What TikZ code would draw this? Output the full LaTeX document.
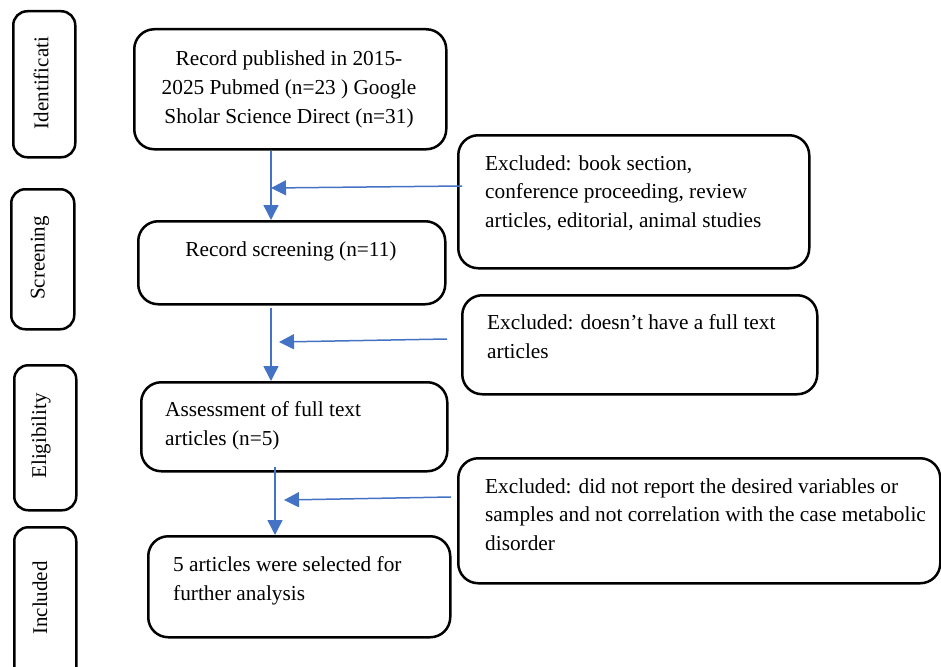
\documentclass[tikz,border=0pt]{standalone}
\usepackage{fontspec}
\setmainfont{Liberation Serif}
\usetikzlibrary{arrows.meta,calc}
\definecolor{arrowblue}{HTML}{4472C4}
\begin{document}
\begin{tikzpicture}[x=1pt,y=-1pt,
  box/.style={draw=black, line width=2.5pt, rounded corners=20pt, anchor=north west, inner sep=0pt},
  side/.style={draw=black, line width=2.5pt, rounded corners=14pt, anchor=north west, inner sep=0pt},
  txt/.style={font=\fontsize{21.3}{28.5}\selectfont, inner sep=0pt, align=left, anchor=base west},
  ctxt/.style={font=\fontsize{21.3}{28.5}\selectfont, inner sep=0pt, align=center, anchor=base},
  stxt/.style={font=\fontsize{21}{25}\selectfont, inner sep=0pt, rotate=90, anchor=center},
  flow/.style={draw=arrowblue, line width=1.5pt, -{Triangle[length=15pt,width=15pt]}}]
\useasboundingbox (0,0) rectangle (941,666);
\clip (0,0) rectangle (941,666);
% phase boxes
\node[side, minimum width=62pt, minimum height=146pt] (s1) at (12,10) {};
\node[side, minimum width=63pt, minimum height=140pt] (s2) at (10,188) {};
\node[side, minimum width=62pt, minimum height=145pt] (s3) at (13,364) {};
\node[side, minimum width=62pt, minimum height=180pt] (s4) at (13,526) {};
\node[stxt] (t1) at (41,83) {Identificati};
\node[stxt] (t2) at (40,258) {Screening};
\node[stxt] (t3) at (41,436) {Eligibility};
\node[stxt] (t4) at (40,598) {Included};
% main boxes
\node[box, minimum width=312pt, minimum height=120pt] (b1) at (133,28) {};
\node[box, minimum width=307pt, minimum height=83pt] (b2) at (137,220) {};
\node[box, minimum width=306pt, minimum height=89pt] (b3) at (140,381) {};
\node[box, minimum width=302pt, minimum height=101pt] (b4) at (147,535) {};
% (base anchor of a multi-line node = baseline of its last line)
\node[ctxt] (b1t) at (289,123) {Record published in 2015-\\2025 Pubmed (n=23 ) Google\\Sholar Science Direct (n=31)};
\node[ctxt] (b2t) at (291,256) {Record screening (n=11)};
\node[txt] (b3t) at (165,445) {Assessment of full text\\articles (n=5)};
\node[txt] (b4t) at (173,600) {5 articles were selected for\\further analysis};
% exclusion boxes
\node[box, minimum width=351pt, minimum height=133pt] (e1) at (457,134) {};
\node[box, minimum width=355pt, minimum height=99pt] (e2) at (461,294) {};
\node[box, minimum width=482pt, minimum height=125pt] (e3) at (457,457) {};
\node[txt] (e1t) at (485,227) {Excluded: book section,\\conference proceeding, review\\articles, editorial, animal studies};
\node[txt] (e2t) at (487,358) {Excluded: doesn’t have a full text\\articles};
\node[txt] (e3t) at (485,550) {Excluded: did not report the desired variables or\\samples and not correlation with the case metabolic\\disorder};
% arrow targets
\coordinate (h1) at (271,188);
\coordinate (h2) at (279,342);
\coordinate (h3) at (284,500);
% connectors
\draw[flow] (271,0 |- b1.south) -- (271,0 |- b2.north);
\draw[flow] ($(271,0 |- b2.south)+(0,2)$) -- (271,0 |- b3.north);
\draw[flow] ($(275,0 |- b3.south)+(0,-6)$) -- (275,0 |- b4.north);
\draw[flow] ($(e1.north west)+(5,52)$) -- (h1);
\draw[flow] ($(e2.north west)+(-14,45)$) -- (h2);
\draw[flow] ($(e3.north west)+(-6,40)$) -- (h3);
\end{tikzpicture}
\end{document}
